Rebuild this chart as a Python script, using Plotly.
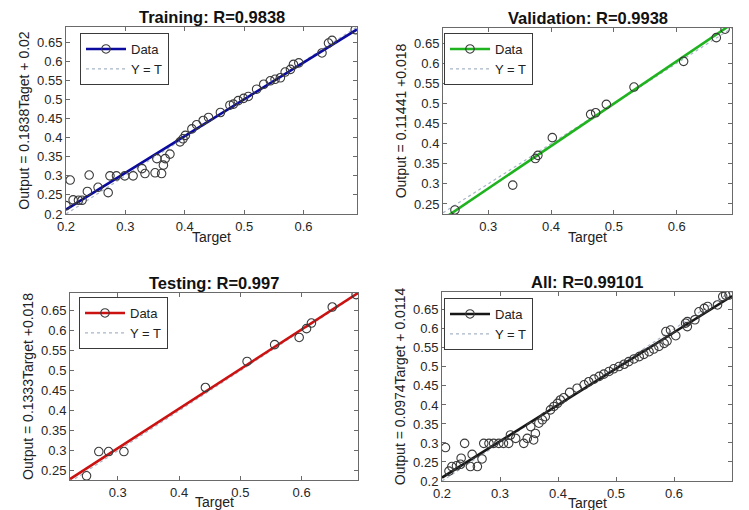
import numpy as np
import plotly.graph_objects as go

# ---------------- data ----------------
train_target = [0.200, 0.207, 0.212, 0.221, 0.227, 0.236, 0.239, 0.254, 0.271, 0.274, 0.285,
                0.299, 0.313, 0.328, 0.333, 0.350, 0.361, 0.353, 0.364, 0.367, 0.375,
                0.392, 0.397, 0.401, 0.412, 0.420, 0.431, 0.440, 0.460, 0.476, 0.482,
                0.490, 0.499, 0.507, 0.521, 0.533, 0.544, 0.552, 0.561, 0.569, 0.578,
                0.583, 0.592, 0.631, 0.642, 0.648, 0.687]
train_output = [0.222, 0.289, 0.237, 0.236, 0.236, 0.259, 0.302, 0.270, 0.256, 0.300, 0.300,
                0.300, 0.300, 0.319, 0.306, 0.308, 0.306, 0.345, 0.328, 0.345, 0.357,
                0.389, 0.397, 0.406, 0.423, 0.434, 0.445, 0.453, 0.466, 0.485, 0.488,
                0.497, 0.503, 0.508, 0.527, 0.540, 0.549, 0.553, 0.557, 0.572, 0.579,
                0.592, 0.596, 0.622, 0.648, 0.655, 0.683]

val_target = [0.247, 0.339, 0.375, 0.379, 0.402, 0.463, 0.471, 0.488, 0.532, 0.611, 0.663, 0.677]
val_output = [0.235, 0.297, 0.363, 0.371, 0.415, 0.473, 0.477, 0.498, 0.541, 0.605, 0.664, 0.685]

test_target = [0.249, 0.269, 0.285, 0.310, 0.443, 0.511, 0.556, 0.596, 0.608, 0.616, 0.650, 0.689]
test_output = [0.2375, 0.298, 0.298, 0.298, 0.458, 0.523, 0.565, 0.583, 0.605, 0.619, 0.659, 0.690]

all_target = [0.206, 0.212, 0.217, 0.225, 0.232, 0.239, 0.233, 0.249, 0.261, 0.252, 0.269,
              0.272, 0.281, 0.289, 0.298, 0.306, 0.315, 0.318, 0.327, 0.341, 0.347,
              0.353, 0.358, 0.361, 0.367, 0.373, 0.378, 0.387, 0.393, 0.399, 0.404,
              0.410, 0.420, 0.433, 0.445, 0.453, 0.462, 0.471, 0.479, 0.488, 0.496,
              0.505, 0.514, 0.522, 0.531, 0.540, 0.548, 0.557, 0.565, 0.574, 0.583,
              0.588, 0.586, 0.594, 0.603, 0.620, 0.623, 0.623, 0.636, 0.643, 0.652,
              0.658, 0.675, 0.684, 0.689, 0.695]
all_output = [0.288, 0.226, 0.238, 0.240, 0.244, 0.299, 0.260, 0.238, 0.238, 0.270, 0.258,
              0.299, 0.299, 0.299, 0.299, 0.299, 0.299, 0.321, 0.312, 0.299, 0.312,
              0.343, 0.308, 0.325, 0.352, 0.361, 0.369, 0.387, 0.396, 0.404, 0.413,
              0.419, 0.433, 0.444, 0.453, 0.461, 0.468, 0.475, 0.481, 0.488, 0.495,
              0.501, 0.507, 0.514, 0.521, 0.527, 0.533, 0.540, 0.547, 0.554, 0.562,
              0.568, 0.593, 0.597, 0.582, 0.615, 0.619, 0.606, 0.624, 0.645, 0.654,
              0.659, 0.663, 0.685, 0.689, 0.689]

titles = ["Training: R=0.9838", "Validation: R=0.9938", "Testing: R=0.997", "All: R=0.99101"]
y_titles = ["Output = 0.1838Taget + 0.02", "Output = 0.11441 +0.018",
            "Output = 0.1333Target +0.018", "Output = 0.0974Target + 0.0114"]
x_title = "Target"

x_ticks = [[0.2, 0.3, 0.4, 0.5, 0.6], [0.3, 0.4, 0.5, 0.6],
           [0.3, 0.4, 0.5, 0.6], [0.2, 0.3, 0.4, 0.5, 0.6]]
x_ticklabels = [["0.2", "0.3", "0.4", "0.5", "0.6"], ["0.3", "0.4", "0.5", "0.6"],
                ["0.3", "0.4", "0.5", "0.6"], ["0.2", "0.3", "0.4", "0.5", "0.6"]]
y_ticks = [[0.2, 0.25, 0.3, 0.35, 0.4, 0.45, 0.5, 0.55, 0.6, 0.65],
           [0.25, 0.3, 0.35, 0.4, 0.45, 0.5, 0.55, 0.6, 0.65],
           [0.25, 0.3, 0.35, 0.4, 0.45, 0.5, 0.55, 0.6, 0.65],
           [0.2, 0.25, 0.3, 0.35, 0.4, 0.45, 0.5, 0.55, 0.6, 0.65]]
y_ticklabels = [["0.2", "0.25", "0.3", "0.35", "0.4", "0.45", "0.5", "0.55", "0.6", "0.65"],
                ["0.25", "0.3", "0.35", "0.4", "0.45", "0.5", "0.55", "0.6", "0.65"],
                ["0.25", "0.3", "0.35", "0.4", "0.45", "0.5", "0.55", "0.6", "0.65"],
                ["0.2", "0.25", "0.3", "0.35", "0.4", "0.45", "0.5", "0.55", "0.6", "0.65"]]

# ---------------- styling / layout ----------------
W, H = 749, 510
OFF = 8                      # page body margin in the browser
FW, FH = W - OFF, H - OFF    # figure size that fits the window
x_ranges = [[0.2, 0.69], [0.228, 0.688], [0.222, 0.692], [0.2, 0.70]]
y_ranges = [[0.2, 0.69], [0.225, 0.688], [0.227, 0.694], [0.2, 0.697]]
fit_colors = ["#0a0a9e", "#1fb31f", "#cc1111", "#161616"]
# plot boxes in window pixels: (left, right, top, bottom)
boxes = [(66, 357, 27, 214), (443, 732, 28, 214), (70, 358, 293, 480), (442, 732, 292, 481)]
legend_pos = [(80, 33), (444, 33), (79, 297), (444, 298)]
xlabel_gap = [23, 23, 22, 22]   # px from plot bottom to the centre of "Target"


def px(x):
    return (x - OFF) / FW


def py(y):
    return 1 - (y - OFF) / FH


FONT = "Liberation Sans, Arial, sans-serif"
MARK = "#3a3a3a"
fig = go.Figure()

datasets = [(train_target, train_output), (val_target, val_output),
            (test_target, test_output), (all_target, all_output)]

for i, (tx, ty) in enumerate(datasets):
    ax = "" if i == 0 else str(i + 1)
    xref, yref = "x" + ax, "y" + ax
    leg = "legend" + ax
    xr = x_ranges[i]
    slope, icpt = np.polyfit(np.array(tx), np.array(ty), 1)
    xr_arr = np.array(xr)
    # Y = T line
    fig.add_trace(go.Scatter(x=xr_arr, y=xr_arr, mode="lines", name="Y = T",
                             line=dict(color="#a9b6c8", width=1.2, dash="dot"),
                             xaxis=xref, yaxis=yref, legend=leg, legendrank=3))
    # Fit line
    fig.add_trace(go.Scatter(x=xr_arr, y=slope * xr_arr + icpt, mode="lines", name="Fit",
                             line=dict(color=fit_colors[i], width=2.6),
                             xaxis=xref, yaxis=yref, showlegend=False))
    # Data
    fig.add_trace(go.Scatter(x=tx, y=ty, mode="markers", name="Data",
                             marker=dict(symbol="circle-open", size=8.5, color=MARK,
                                         line=dict(color=MARK, width=1.1)),
                             xaxis=xref, yaxis=yref, showlegend=False))
    # legend entry: circle + thick fit line
    fig.add_trace(go.Scatter(x=[None], y=[None], mode="lines+markers", name="Data",
                             line=dict(color=fit_colors[i], width=2.6),
                             marker=dict(symbol="circle-open", size=8.5, color=MARK,
                                         line=dict(color=MARK, width=1.1)),
                             xaxis=xref, yaxis=yref, legend=leg, legendrank=1))

    l, r, t, b = boxes[i]
    axis_common = dict(showline=True, linecolor="#6a6a6a", linewidth=1, mirror="ticks",
                       ticks="inside", ticklen=4, tickcolor="#6a6a6a", showgrid=False,
                       zeroline=False, automargin=False,
                       tickfont=dict(family=FONT, size=13, color="#262626"))
    fig.layout["xaxis" + ax] = dict(axis_common, domain=[px(l), px(r)], range=xr,
                                    anchor=yref, tickvals=x_ticks[i],
                                    ticktext=x_ticklabels[i])
    fig.layout["yaxis" + ax] = dict(axis_common, domain=[py(b), py(t)],
                                    range=y_ranges[i], anchor=xref, tickvals=y_ticks[i],
                                    ticktext=y_ticklabels[i],
                                    title=dict(text=y_titles[i], standoff=4,
                                               font=dict(family=FONT, size=14, color="#222")))
    fig.layout[leg] = dict(x=px(legend_pos[i][0]), y=py(legend_pos[i][1]),
                           xanchor="left", yanchor="top", bgcolor="white",
                           bordercolor="#3a3a3a", borderwidth=1, tracegroupgap=0,
                           font=dict(family=FONT, size=13, color="#222"),
                           itemwidth=40)
    # panel title
    fig.add_annotation(text="<b>" + titles[i] + "</b>", xref="paper", yref="paper",
                       x=px((l + r) / 2), y=py(t + 1), xanchor="center", yanchor="bottom",
                       showarrow=False, font=dict(family=FONT, size=16.5, color="#111"))
    # x-axis title
    fig.add_annotation(text=x_title, xref="paper", yref="paper",
                       x=px((l + r) / 2), y=py(b + xlabel_gap[i]), xanchor="center",
                       yanchor="middle", showarrow=False,
                       font=dict(family=FONT, size=14, color="#222"))

fig.update_layout(width=FW, height=FH, margin=dict(l=0, r=0, t=0, b=0),
                  paper_bgcolor="white", plot_bgcolor="white")

fig.write_html("out.html")
